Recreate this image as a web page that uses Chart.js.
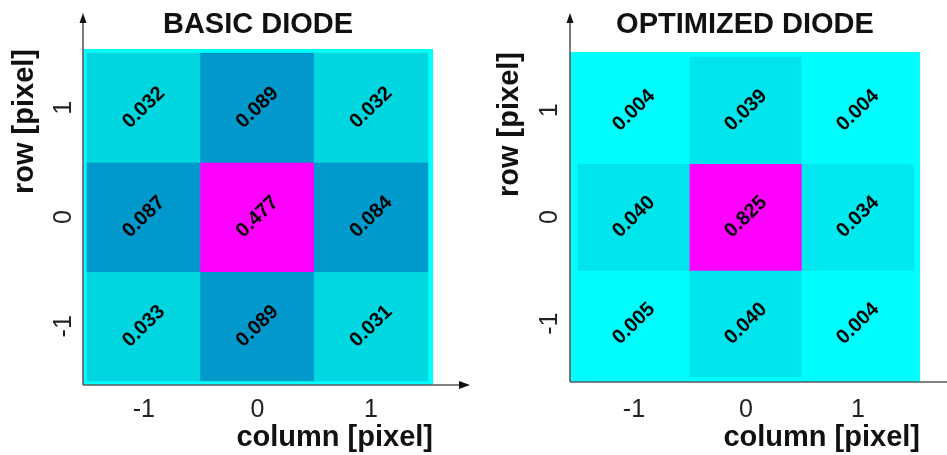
<!DOCTYPE html>
<html>
<head>
<meta charset="utf-8">
<script src="https://cdn.jsdelivr.net/npm/chart.js@4/dist/chart.umd.min.js"></script>
<style>
  html, body { margin: 0; padding: 0; background: #ffffff; }
  #wrap { position: relative; width: 947px; height: 455px; overflow: hidden; }
  .panel { position: absolute; top: 0; height: 455px; }
  #p1 { left: 0; width: 473px; }
  #p2 { left: 473px; width: 474px; }
</style>
</head>
<body>
<div id="wrap">
  <div class="panel" id="p1"><canvas id="c1"></canvas></div>
  <div class="panel" id="p2"><canvas id="c2"></canvas></div>
</div>
<script>
// ---- data ----
const columnTicks = [-1, 0, 1];
const rowTicks = [1, 0, -1];
const basicRowTop = [0.032, 0.089, 0.032];
const basicRowMid = [0.087, 0.477, 0.084];
const basicRowBottom = [0.033, 0.089, 0.031];
const optRowTop = [0.004, 0.039, 0.004];
const optRowMid = [0.040, 0.825, 0.034];
const optRowBottom = [0.005, 0.040, 0.004];
const titles = ['BASIC DIODE', 'OPTIMIZED DIODE'];
const xTitle = 'column [pixel]';
const yTitle = 'row [pixel]';

// ---- colour map (style) ----
const cmapStops = [
  [0.000, [0, 255, 255]],
  [0.048, [0, 229, 235]],
  [0.067, [0, 214, 224]],
  [0.180, [0, 153, 204]],
  [1.000, [255, 0, 255]]
];
function cmap(t) {
  t = Math.max(0, Math.min(1, t));
  for (let i = 1; i < cmapStops.length; i++) {
    const [t1, c1] = cmapStops[i];
    const [t0, c0] = cmapStops[i - 1];
    if (t <= t1) {
      const f = (t - t0) / (t1 - t0);
      const c = c0.map((v, k) => Math.round(v + (c1[k] - v) * f));
      return 'rgb(' + c.join(',') + ')';
    }
  }
  return 'rgb(255,0,255)';
}

const FONT = "'Liberation Sans', Arial, Helvetica, sans-serif";

const cellLabels = {
  id: 'cellLabels',
  afterDatasetsDraw(chart) {
    const ctx = chart.ctx;
    ctx.save();
    ctx.font = 'bold 20px ' + FONT;
    ctx.fillStyle = '#000';
    ctx.textAlign = 'center';
    ctx.textBaseline = 'middle';
    chart.data.datasets.forEach((ds, di) => {
      const meta = chart.getDatasetMeta(di);
      meta.data.forEach((el, j) => {
        const cx = el.x;
        const cy = (el.y + el.base) / 2;
        ctx.save();
        ctx.translate(cx, cy);
        ctx.rotate(-44 * Math.PI / 180);
        ctx.fillText(ds.values[j].toFixed(3), 0, 0);
        ctx.restore();
      });
    });
    ctx.restore();
  }
};

const bgAndAxes = {
  id: 'bgAndAxes',
  beforeDatasetsDraw(chart, args, opts) {
    const {ctx, chartArea: a} = chart;
    ctx.save();
    ctx.fillStyle = opts.bg;
    ctx.fillRect(a.left, a.top, a.right - a.left, a.bottom - a.top);
    ctx.restore();
  },
  afterDraw(chart, args, opts) {
    const {ctx, chartArea: a} = chart;
    ctx.save();
    ctx.strokeStyle = '#5a5a5a';
    ctx.lineWidth = 1.6;
    ctx.beginPath();
    ctx.moveTo(a.left, a.bottom);
    ctx.lineTo(a.left, opts.topY + 6);
    ctx.moveTo(a.left, a.bottom);
    ctx.lineTo(opts.rightX - 6, a.bottom);
    ctx.stroke();
    ctx.fillStyle = '#111';
    ctx.beginPath();
    ctx.moveTo(a.left, opts.topY);
    ctx.lineTo(a.left - 3.5, opts.topY + 10);
    ctx.lineTo(a.left + 3.5, opts.topY + 10);
    ctx.closePath();
    ctx.fill();
    ctx.beginPath();
    ctx.moveTo(opts.rightX, a.bottom);
    ctx.lineTo(opts.rightX - 11, a.bottom - 4);
    ctx.lineTo(opts.rightX - 11, a.bottom + 4);
    ctx.closePath();
    ctx.fill();
    ctx.restore();
  }
};

function makeDatasets(rows, maxVal) {
  return rows.map((vals, ri) => ({
    values: vals,
    data: vals.map((v, ci) => ({ x: columnTicks[ci], y: [rowTicks[ri] - 0.5, rowTicks[ri] + 0.5] })),
    backgroundColor: vals.map(v => cmap(v / maxVal)),
    borderWidth: 0,
    grouped: false,
    barPercentage: 1,
    categoryPercentage: 1
  }));
}

function makeChart(canvasId, cfg) {
  const rows = cfg.rows;
  const maxVal = Math.max(...rows.flat());
  return new Chart(document.getElementById(canvasId), {
    type: 'bar',
    data: { datasets: makeDatasets(rows, maxVal) },
    plugins: [bgAndAxes, cellLabels],
    options: {
      responsive: true,
      maintainAspectRatio: false,
      animation: false,
      events: [],
      layout: { padding: { left: 0, right: cfg.padRight, top: 0, bottom: 0 } },
      plugins: {
        legend: { display: false },
        tooltip: { enabled: false },
        title: {
          display: true,
          text: cfg.title,
          fullSize: false,
          color: '#111',
          font: { family: FONT, size: 29, weight: 'bold' },
          padding: { top: 8, bottom: cfg.titlePadBottom }
        },
        bgAndAxes: { bg: 'rgb(0,255,255)', topY: cfg.arrowTop, rightX: cfg.arrowRight }
      },
      scales: {
        x: {
          type: 'linear',
          offset: false,
          min: cfg.xMin, max: cfg.xMax,
          afterBuildTicks: s => { s.ticks = columnTicks.map(v => ({ value: v })); },
          afterFit: s => { s.height = cfg.xAxisHeight; },
          grid: { display: false, drawTicks: false, offset: false },
          border: { display: false },
          ticks: {
            color: '#222', padding: cfg.xTickPad, maxRotation: 0, minRotation: 0,
            font: { family: FONT, size: 25 },
            callback: v => String(v)
          },
          title: {
            display: true, text: xTitle, align: 'end', color: '#111',
            font: { family: FONT, size: 29, weight: 'bold' },
            padding: { top: 0, bottom: 0 }
          }
        },
        y: {
          type: 'linear',
          min: cfg.yMin, max: cfg.yMax,
          afterBuildTicks: s => { s.ticks = rowTicks.map(v => ({ value: v })); },
          afterFit: s => { s.width = cfg.yAxisWidth; },
          grid: { display: false, drawTicks: false },
          border: { display: false },
          ticks: {
            color: '#222', padding: cfg.yTickPad, minRotation: 90, maxRotation: 90,
            crossAlign: 'center',
            font: { family: FONT, size: 25 },
            callback: v => String(v)
          },
          title: {
            display: true, text: yTitle, align: 'end', color: '#111',
            font: { family: FONT, size: 29, weight: 'bold' },
            padding: { top: cfg.yTitlePad, bottom: 0 }
          }
        }
      }
    }
  });
}

makeChart('c1', {
  rows: [basicRowTop, basicRowMid, basicRowBottom],
  title: titles[0],
  padRight: 40, titlePadBottom: 6.2,
  xMin: -1.535, xMax: 1.545, yMin: -1.537, yMax: 1.537,
  xAxisHeight: 70, yAxisWidth: 83,
  xTickPad: 10, yTickPad: 8, yTitlePad: 8,
  arrowTop: 13, arrowRight: 470
});

makeChart('c2', {
  rows: [optRowTop, optRowMid, optRowBottom],
  title: titles[1],
  padRight: 27, titlePadBottom: 9.2,
  xMin: -1.571, xMax: 1.554, yMin: -1.547, yMax: 1.547,
  xAxisHeight: 73, yAxisWidth: 97,
  xTickPad: 13, yTickPad: 9, yTitlePad: 20,
  arrowTop: 13, arrowRight: 490
});
</script>
</body>
</html>
